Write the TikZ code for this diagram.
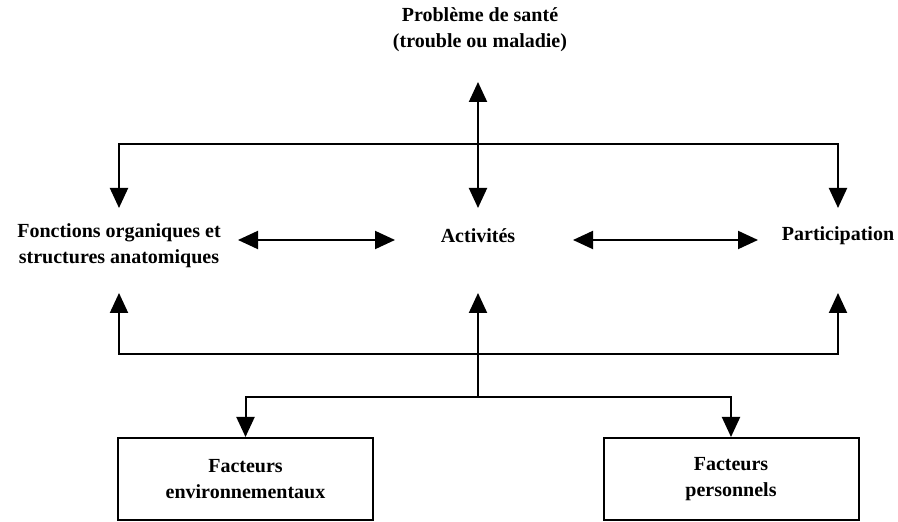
\documentclass[tikz,border=0pt]{standalone}
\usepackage{fontspec}
\setmainfont{Liberation Serif}
\usepackage{tikz}
\usetikzlibrary{arrows.meta}

\begin{document}
\begin{tikzpicture}[x=0.5pt,y=-0.5pt,line width=1pt,
    >={Triangle[length=10pt,width=9pt]},
    lbl/.style={font=\fontsize{10}{13}\selectfont\bfseries,align=center,inner sep=1pt},
    facteur/.style={draw,font=\fontsize{10}{13}\selectfont\bfseries,align=center,
        minimum width=127.5pt,minimum height=41pt,inner sep=0pt}]
\useasboundingbox (0,0) rectangle (898,522);

% Labels
\node[lbl] (sante) at (480,30) {Problème de santé\\(trouble ou maladie)};
\node[lbl] (fonct) at (119,246) {Fonctions organiques et\\structures anatomiques};
\node[lbl] (act) at (478,236) {Activités};
\node[lbl] (part) at (838,236) {Participation};

% Boxes
\node[facteur] (env) at (245.5,479) {Facteurs\\environnementaux};
\node[facteur] (pers) at (731,479) {Facteurs\\personnels};

% Arrow ends
\coordinate (santeB) at (478,82);
\coordinate (actH) at (478,208);
\coordinate (hautC) at (478,144);
\coordinate (fonctH) at (119,208);
\coordinate (partH) at (838,208);
\coordinate (basC) at (478,354);
\coordinate (fonctB) at (119,293);
\coordinate (partB) at (838,293);
\coordinate (actB) at (478,293);
\coordinate (branche) at (478,397);
\coordinate (fa) at (238,240);
\coordinate (fb) at (395,240);
\coordinate (pa) at (573,240);
\coordinate (pb) at (758,240);

% Top
\draw[<->] (santeB) -- (actH);
\draw[->] (hautC) -| (fonctH);
\draw[->] (hautC) -| (partH);

% Middle
\draw[<->] (fa) -- (fb);
\draw[<->] (pa) -- (pb);

% Bottom
\draw[->] (basC) -| (fonctB);
\draw[->] (basC) -| (partB);
\draw[->] (branche) -- (actB);
\draw[->] (branche) -| (env.north);
\draw[->] (branche) -| (pers.north);

\end{tikzpicture}
\end{document}
